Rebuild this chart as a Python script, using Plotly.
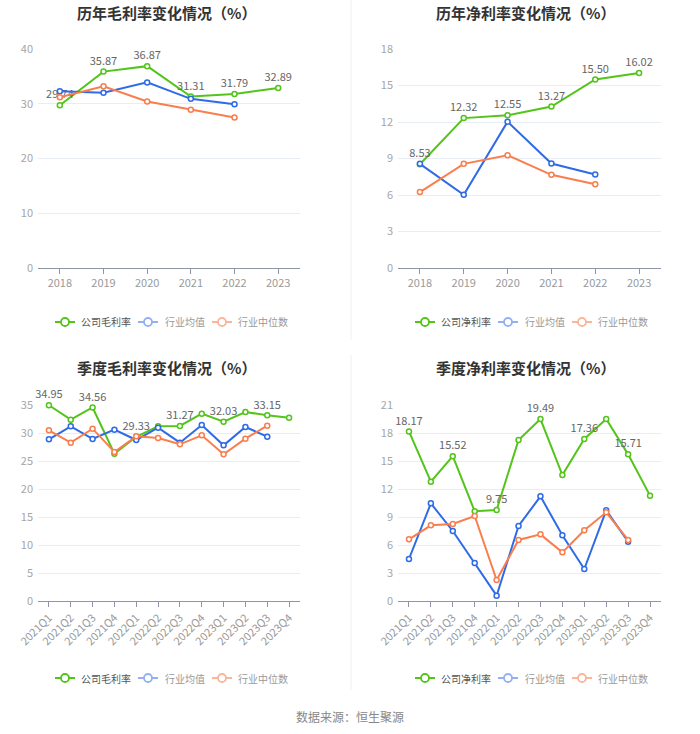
import plotly.graph_objects as go

years = ["2018", "2019", "2020", "2021", "2022", "2023"]
quarters = ["2021Q1", "2021Q2", "2021Q3", "2021Q4", "2022Q1", "2022Q2",
            "2022Q3", "2022Q4", "2023Q1", "2023Q2", "2023Q3", "2023Q4"]

# Annual gross margin (%)
gm_company = [29.74, 35.87, 36.87, 31.31, 31.79, 32.89]
gm_avg = [32.3, 32.0, 33.9, 30.9, 29.9]
gm_median = [31.2, 33.2, 30.4, 28.9, 27.5]

# Annual net margin (%)
nm_company = [8.53, 12.32, 12.55, 13.27, 15.50, 16.02]
nm_avg = [8.56, 6.02, 12.03, 8.59, 7.69]
nm_median = [6.24, 8.56, 9.27, 7.66, 6.89]

# Quarterly gross margin (%)
qgm_company = [34.95, 32.38, 34.56, 26.31, 29.33, 31.19, 31.27, 33.45, 32.03, 33.75, 33.15, 32.74]
qgm_avg = [28.87, 31.19, 28.93, 30.60, 28.75, 30.95, 28.27, 31.43, 27.80, 31.07, 29.35]
qgm_median = [30.48, 28.27, 30.77, 26.60, 29.40, 29.10, 27.98, 29.58, 26.19, 28.99, 31.31]

# Quarterly net margin (%)
qnm_company = [18.17, 12.79, 15.52, 9.61, 9.75, 17.25, 19.49, 13.50, 17.36, 19.50, 15.71, 11.29]
qnm_avg = [4.50, 10.46, 7.50, 4.07, 0.57, 8.04, 11.21, 7.04, 3.43, 9.71, 6.36]
qnm_median = [6.61, 8.11, 8.25, 9.11, 2.25, 6.54, 7.14, 5.21, 7.57, 9.50, 6.54]

titles = ["历年毛利率变化情况（%）", "历年净利率变化情况（%）",
          "季度毛利率变化情况（%）", "季度净利率变化情况（%）"]
series_names = [["公司毛利率", "行业均值", "行业中位数"],
                ["公司净利率", "行业均值", "行业中位数"],
                ["公司毛利率", "行业均值", "行业中位数"],
                ["公司净利率", "行业均值", "行业中位数"]]

GREEN = "#52c41a"
BLUE = "#2f6be6"
ORANGE = "#fa7e4d"
LEG_COLORS = ["#52c41a", "#92b1f3", "#fcb598"]
LEG_TEXT = ["#555555", "#999999", "#999999"]
FONT = "Noto Sans CJK SC"

W, H = 700, 734

def px_x(v):
    return v / W

def px_y(v):
    return 1 - v / H

panels = [
    dict(cats=years, data=[gm_company, gm_avg, gm_median], ymax=40, dtick=10,
         xd=(38, 300), yd=(49, 268), label_every=1, rot=0, title_xy=(166, 13), legend_y=322, lx=0),
    dict(cats=years, data=[nm_company, nm_avg, nm_median], ymax=18, dtick=3,
         xd=(398, 661), yd=(49, 268), label_every=1, rot=0, title_xy=(525, 13), legend_y=322, lx=360),
    dict(cats=quarters, data=[qgm_company, qgm_avg, qgm_median], ymax=35, dtick=5,
         xd=(38, 300), yd=(405, 601), label_every=2, rot=-45, title_xy=(166, 367), legend_y=678, lx=0),
    dict(cats=quarters, data=[qnm_company, qnm_avg, qnm_median], ymax=21, dtick=3,
         xd=(398, 661), yd=(405, 601), label_every=2, rot=-45, title_xy=(525, 367), legend_y=678, lx=360),
]

# legend layout (pixel offsets within a panel row)
LEG_ICON_X = [55, 138, 212]
LEG_TEXT_X = [79, 163, 236]

fig = go.Figure()
colors = [GREEN, BLUE, ORANGE]
annotations = []
shapes = []
layout_axes = {}

for i, p in enumerate(panels):
    n = i + 1
    xa = "x" if n == 1 else f"x{n}"
    ya = "y" if n == 1 else f"y{n}"
    for s, vals in enumerate(p["data"]):
        cats = p["cats"][:len(vals)]
        if s == 0:
            texts = [f"{v:.2f}" if k % p["label_every"] == 0 else "" for k, v in enumerate(vals)]
        else:
            texts = None
        fig.add_trace(go.Scatter(
            x=cats, y=vals, xaxis=xa, yaxis=ya,
            mode="lines+markers+text" if texts else "lines+markers",
            text=texts, textposition="top center",
            textfont=dict(size=11, color="#666666", family=FONT),
            line=dict(color=colors[s], width=2),
            marker=dict(symbol="circle", size=5, color="white",
                        line=dict(color=colors[s], width=1.5)),
            showlegend=False, cliponaxis=False, hoverinfo="skip",
        ))
    nc = len(p["cats"])
    layout_axes["xaxis" if n == 1 else f"xaxis{n}"] = dict(
        domain=[px_x(p["xd"][0]), px_x(p["xd"][1])],
        anchor=ya, type="category", categoryorder="array", categoryarray=p["cats"],
        range=[-0.5, nc - 0.5], showgrid=False, zeroline=False, automargin=False,
        showline=True, linecolor="#8f96a3", linewidth=1,
        ticks="outside", ticklen=5, tickcolor="#8f96a3",
        tickangle=p["rot"], tickfont=dict(size=11, color="#9a9a9a", family=FONT),
        fixedrange=True,
    )
    layout_axes["yaxis" if n == 1 else f"yaxis{n}"] = dict(
        domain=[px_y(p["yd"][1]), px_y(p["yd"][0])],
        anchor=xa, range=[0, p["ymax"]], dtick=p["dtick"], tick0=0, automargin=False,
        showgrid=True, gridcolor="#e8ecf4", gridwidth=1, zeroline=False,
        showline=False, ticks="", ticklabelstandoff=4,
        tickfont=dict(size=11, color="#a6a6a6", family=FONT),
        fixedrange=True,
    )
    annotations.append(dict(
        text=f"<b>{titles[i]}</b>", x=px_x(p["title_xy"][0]), y=px_y(p["title_xy"][1]),
        xref="paper", yref="paper", xanchor="center", yanchor="middle",
        showarrow=False, font=dict(size=15, color="#333333", family=FONT),
    ))
    # manual legend
    ly = p["legend_y"]
    for s in range(3):
        x0 = p["lx"] + LEG_ICON_X[s]
        shapes.append(dict(type="line", xref="paper", yref="paper",
                           x0=px_x(x0), x1=px_x(x0 + 20), y0=px_y(ly), y1=px_y(ly),
                           line=dict(color=LEG_COLORS[s], width=2)))
        shapes.append(dict(type="circle", xref="paper", yref="paper",
                           x0=px_x(x0 + 6), x1=px_x(x0 + 14), y0=px_y(ly + 4), y1=px_y(ly - 4),
                           fillcolor="white", line=dict(color=LEG_COLORS[s], width=1.8)))
        annotations.append(dict(
            text=series_names[i][s], x=px_x(p["lx"] + LEG_TEXT_X[s]), y=px_y(ly),
            xref="paper", yref="paper", xanchor="left", yanchor="middle",
            showarrow=False, font=dict(size=10, color=LEG_TEXT[s], family=FONT),
        ))

annotations.append(dict(
    text="数据来源：恒生聚源", x=0.5, y=px_y(716), xref="paper", yref="paper",
    xanchor="center", yanchor="middle", showarrow=False,
    font=dict(size=12, color="#888888", family=FONT),
))

shapes += [
    dict(type="line", xref="paper", yref="paper", x0=px_x(351), x1=px_x(351),
         y0=px_y(0), y1=px_y(340), line=dict(color="#f0f0f0", width=1)),
    dict(type="line", xref="paper", yref="paper", x0=px_x(351), x1=px_x(351),
         y0=px_y(355), y1=px_y(690), line=dict(color="#f0f0f0", width=1)),
]

fig.update_layout(
    width=W, height=H, margin=dict(l=0, r=0, t=0, b=0),
    paper_bgcolor="white", plot_bgcolor="white", showlegend=False,
    font=dict(family=FONT),
    annotations=annotations, shapes=shapes,
    **layout_axes,
)

fig.write_html("out.html", config={"displayModeBar": False},
               post_script="document.body.style.margin='0';document.body.style.overflow='hidden';")
